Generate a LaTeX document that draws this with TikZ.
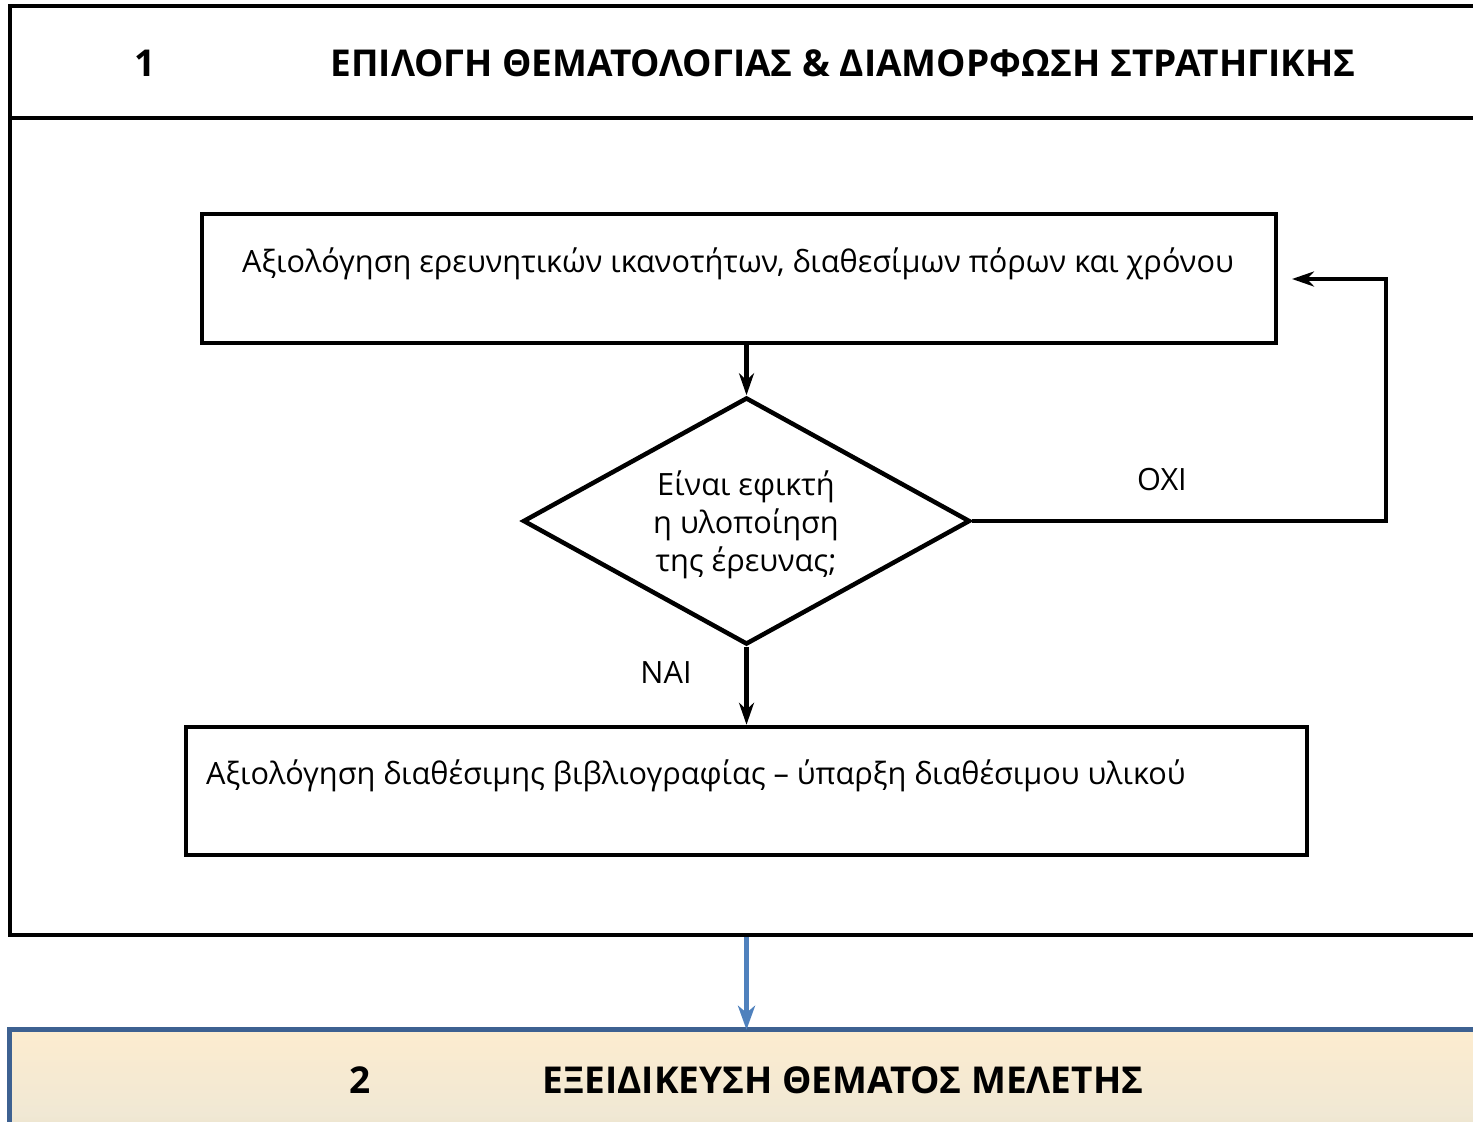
\documentclass[tikz,border=0pt]{standalone}
\usepackage{fontspec}
\setmainfont{Open Sans}
\usetikzlibrary{arrows.meta,shapes.geometric}
\definecolor{bandblue}{HTML}{3D6191}
\definecolor{arrowblue}{HTML}{4F81BD}
\definecolor{bandtop}{HTML}{FDECCF}
\definecolor{bandmid}{HTML}{F0E8D4}
\definecolor{bandbot}{HTML}{D8CAA8}
\tikzset{
  frame/.style={draw=black, line width=4.5pt, rectangle, inner sep=0pt},
  stepbox/.style={draw=black, line width=4.5pt, rectangle, inner sep=0pt},
  conn/.style={draw=black, line width=4.5pt, -{Stealth[length=22pt,width=15pt,inset=7pt]}},
  bodytext/.style={font=\fontsize{30.7}{38}\selectfont, inner sep=0pt},
  headtext/.style={font=\bfseries\fontsize{37}{42}\selectfont, inner sep=0pt}
}
\begin{document}
\begin{tikzpicture}[x=1pt,y=-1pt]
\useasboundingbox (0,0) rectangle (1473,1122);
\clip (0,0) rectangle (1473,1122);
% header 1
\node[frame, minimum width=1480pt, minimum height=112pt] (h1) at (750,62) {};
\node[headtext] (n1) at (145,63) {1};
\node[headtext] (t1) at (843,63) {ΕΠΙΛΟΓΗ ΘΕΜΑΤΟΛΟΓΙΑΣ \& ΔΙΑΜΟΡΦΩΣΗ ΣΤΡΑΤΗΓΙΚΗΣ};
% main frame
\node[frame, minimum width=1480pt, minimum height=817pt] (main) at (750,526.5) {};
% box A
\node[stepbox, minimum width=1074pt, minimum height=129pt] (A) at (739,278.5) {};
\node[bodytext, anchor=base] (At) at (738,272) {Αξιολόγηση ερευνητικών ικανοτήτων, διαθεσίμων πόρων και χρόνου};
% diamond
\node[draw=black, line width=4.5pt, diamond, minimum width=447pt, minimum height=247pt, inner sep=0pt] (dia) at (746.5,521) {};
\node[bodytext, align=center] (diat) at (746,525) {Είναι εφικτή\\η υλοποίηση\\της έρευνας;};
% box B
\node[stepbox, minimum width=1121pt, minimum height=128pt] (B) at (746.5,791) {};
\node[bodytext, anchor=base west] (Bt) at (206,784) {Αξιολόγηση διαθέσιμης βιβλιογραφίας – ύπαρξη διαθέσιμου υλικού};
% labels
\node[bodytext] (oxi) at (1162,480) {ΟΧΙ};
\node[bodytext] (nai) at (666,672) {ΝΑΙ};
% connectors
\draw[conn] (A.south -| dia.north) -- (dia.north);
\draw[conn] (dia.south) -- (B.north -| dia.south);
\coordinate (oxiend) at (1292,279);
\coordinate (oxiright) at (1386,0);
\draw[conn] (dia.east) -- (dia.east -| oxiright) |- (oxiend);
% band 2
\node[rectangle, inner sep=0pt, minimum width=1480pt, minimum height=170pt, top color=bandtop, bottom color=bandbot, middle color=bandmid] (h2) at (750,1115) {};
\draw[bandblue, line width=5pt] (h2.south west) -- (h2.north west) -- (h2.north east);
\node[headtext] (n2) at (360,1080) {2};
\node[headtext] (t2) at (843,1080) {ΕΞΕΙΔΙΚΕΥΣΗ ΘΕΜΑΤΟΣ ΜΕΛΕΤΗΣ};
\draw[arrowblue, line width=4.5pt, -{Stealth[length=24pt,width=17pt,inset=7pt]}] (main.south -| dia.south) -- (h2.north -| dia.south);
\end{tikzpicture}
\end{document}
